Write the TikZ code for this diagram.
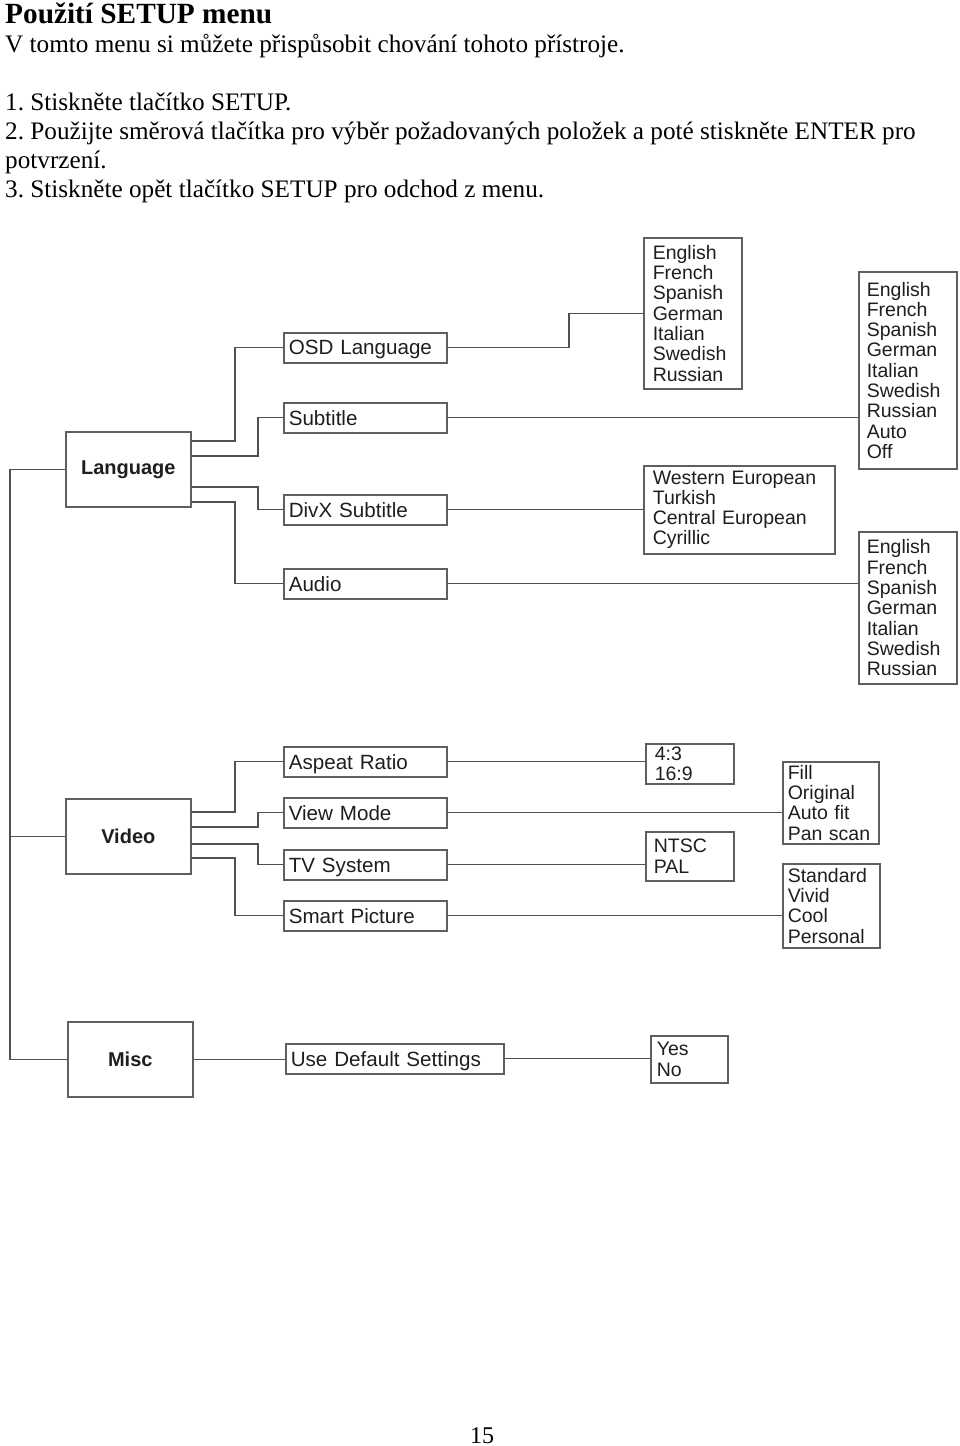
\documentclass[tikz,border=0pt]{standalone}
\usepackage{fontspec}
\setmainfont{Liberation Serif}
\setsansfont{Liberation Sans}
\usepackage{tikz}
\definecolor{boxgray}{RGB}{95,95,95}
\definecolor{wiregray}{RGB}{80,80,80}
\definecolor{inkgray}{RGB}{30,30,30}
\frenchspacing

\begin{document}
\begin{tikzpicture}[x = 1pt, y = -1pt,
  wire/.style = {draw = wiregray, line width = 1.3pt},
  head/.style = {draw = boxgray, line width = 1.6pt, anchor = north west, text = inkgray, font = \sffamily\bfseries\fontsize{20}{20}\selectfont, minimum width = 125pt, minimum height = 75pt},
  item/.style = {draw = boxgray, line width = 1.6pt, anchor = north west, align = left, text = inkgray, font = \sffamily\fontsize{20.6}{20.6}\selectfont, inner xsep = 5pt, inner ysep = 0pt, text depth = 0pt, minimum height = 30pt, text width = 153pt},
  choices/.style = {draw = boxgray, line width = 1.6pt, anchor = north west, align = left, text = inkgray, font = \sffamily\fontsize{19.5}{20.3}\selectfont, inner ysep = 0pt},
  txt/.style = {anchor = base west, inner sep = 0pt, font = \fontsize{25.2}{25.2}\selectfont}]
  \useasboundingbox (0, 0) rectangle (960, 1446);
  \node[txt, font = \bfseries\fontsize{29.3}{29.3}\selectfont] (title) at (5, 23) {Použití SETUP menu};
  \node[txt] (intro) at (5, 52) {V tomto menu si můžete přispůsobit chování tohoto přístroje.};
  \node[txt] (step1) at (5, 110) {1. Stiskněte tlačítko SETUP.};
  \node[txt] (step2) at (5, 139) {2. Použijte směrová tlačítka pro výběr požadovaných položek a poté stiskněte ENTER pro};
  \node[txt] (step2b) at (5, 168) {potvrzení.};
  \node[txt] (step3) at (5, 197) {3. Stiskněte opět tlačítko SETUP pro odchod z menu.};
  \node[txt, font = \fontsize{24}{24}\selectfont] (page) at (470, 1443) {15};

  \node[head] (lang) at (65, 431) {Language};
  \node[item] (osd) at (283, 332) {OSD Language};
  \node[item] (sub) at (283, 402) {Subtitle};
  \node[item] (divx) at (283, 494) {DivX Subtitle};
  \node[item] (audio) at (283, 568) {Audio};
  \node[choices, inner xsep = 9pt, text width = 80pt, minimum height = 151pt] (osdlist) at (643, 237) {English\\French\\Spanish\\German\\Italian\\Swedish\\Russian};
  \node[choices, inner xsep = 8pt, text width = 82pt, minimum height = 197pt] (sublist) at (858, 271) {English\\French\\Spanish\\German\\Italian\\Swedish\\Russian\\Auto\\Off};
  \node[choices, inner xsep = 9pt, text width = 173pt, minimum height = 88pt] (charset) at (643, 465) {Western European\\Turkish\\Central European\\Cyrillic};
  \node[choices, inner xsep = 8pt, text width = 82pt, minimum height = 152pt] (audiolist) at (858, 531) {English\\French\\Spanish\\German\\Italian\\Swedish\\Russian};

  \node[head] (video) at (65, 798) {Video};
  \node[item] (ratio) at (283, 746) {Aspeat Ratio};
  \node[item] (view) at (283, 797) {View Mode};
  \node[item] (tvsys) at (283, 849) {TV System};
  \node[item] (smart) at (283, 900) {Smart Picture};
  \node[choices, inner xsep = 9pt, text width = 70pt, minimum height = 40pt] (ratiolist) at (645, 743) {4:3\\16:9};
  \node[choices, inner xsep = 5pt, text width = 86pt, minimum height = 82pt] (modelist) at (782, 761) {Fill\\Original\\Auto fit\\Pan scan};
  \node[choices, inner xsep = 8pt, text width = 72pt, minimum height = 49pt] (tvlist) at (645, 831) {NTSC\\PAL};
  \node[choices, inner xsep = 5pt, text width = 87pt, minimum height = 84pt] (piclist) at (782, 863) {Standard\\Vivid\\Cool\\Personal};

  \node[head] (misc) at (67, 1021) {Misc};
  \node[item, text width = 208pt] (reset) at (285, 1043) {Use Default Settings};
  \node[choices, inner xsep = 6pt, text width = 65pt, minimum height = 47pt] (yesno) at (650, 1035) {Yes\\No};

  \coordinate (trunk) at (10, 0);
  \draw[wire] (lang.west) -- (lang.west -| trunk) -- (misc.west -| trunk) -- (misc.west);
  \draw[wire] (video.west) -- (video.west -| trunk);

  \draw[wire] ([yshift = -10pt]lang.north east) -| ([xshift = -48pt]osd.west) -- (osd.west);
  \draw[wire] ([yshift = -25pt]lang.north east) -| ([xshift = -25pt]sub.west) -- (sub.west);
  \draw[wire] ([yshift = -56pt]lang.north east) -| ([xshift = -25pt]divx.west) -- (divx.west);
  \draw[wire] ([yshift = -71pt]lang.north east) -| ([xshift = -48pt]audio.west) -- (audio.west);
  \draw[wire] (osd.east) -| ([xshift = -74pt]osdlist.west) -- (osdlist.west);
  \draw[wire] (sub.east) -- (sub.east -| sublist.west);
  \draw[wire] (divx.east) -- (divx.east -| charset.west);
  \draw[wire] (audio.east) -- (audio.east -| audiolist.west);

  \draw[wire] ([yshift = -14pt]video.north east) -| ([xshift = -48pt]ratio.west) -- (ratio.west);
  \draw[wire] ([yshift = -29pt]video.north east) -| ([xshift = -25pt]view.west) -- (view.west);
  \draw[wire] ([yshift = -46pt]video.north east) -| ([xshift = -25pt]tvsys.west) -- (tvsys.west);
  \draw[wire] ([yshift = -60pt]video.north east) -| ([xshift = -48pt]smart.west) -- (smart.west);
  \draw[wire] (ratio.east) -- (ratio.east -| ratiolist.west);
  \draw[wire] (view.east) -- (view.east -| modelist.west);
  \draw[wire] (tvsys.east) -- (tvsys.east -| tvlist.west);
  \draw[wire] (smart.east) -- (smart.east -| piclist.west);

  \draw[wire] (misc.east) -- (misc.east -| reset.west);
  \draw[wire] (reset.east) -- (reset.east -| yesno.west);
\end{tikzpicture}
\end{document}
